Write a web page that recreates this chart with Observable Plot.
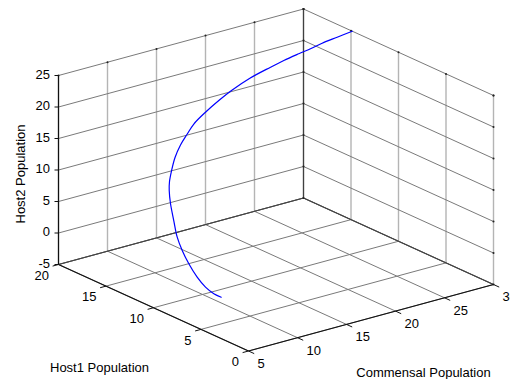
<!DOCTYPE html>
<html>
<head>
<meta charset="utf-8">
<script src="https://cdn.jsdelivr.net/npm/d3@7"></script>
<script src="https://cdn.jsdelivr.net/npm/@observablehq/plot@0.6"></script>
<style>
  html, body { margin: 0; padding: 0; background: #fff; }
  #chart svg { display: block; }
</style>
</head>
<body>
<div id="chart"></div>
<script>
// ---- data ----
const commensal = [6.5, 6.6, 6.7, 6.8, 6.9, 7.0, 7.1, 7.3, 7.5, 7.7, 8.0, 8.3, 8.7, 9.2, 9.8, 10.5, 12.0, 13.7, 15.5, 18.0, 20.2, 22.0, 24.0, 25.5, 27.0, 28.5, 30.0];
const host1 = [4.42, 5.30, 6.28, 7.26, 8.24, 9.04, 9.67, 10.24, 10.79, 11.13, 11.41, 11.51, 11.55, 11.49, 11.43, 11.43, 11.75, 12.10, 12.62, 13.31, 13.36, 13.82, 14.31, 14.62, 14.94, 14.91, 14.87];
const host2 = [-0.13, -0.23, 0.10, 0.97, 2.38, 3.90, 5.54, 7.71, 9.95, 11.70, 12.80, 14.28, 16.22, 18.04, 19.49, 20.86, 21.88, 22.78, 23.25, 23.63, 24.46, 24.45, 24.33, 24.28, 24.31, 24.65, 25.0];

const commensalTicks = [5, 10, 15, 20, 25, 30];
const host1Ticks = [0, 5, 10, 15, 20];
const host2Ticks = [-5, 0, 5, 10, 15, 20, 25];

const commensalLabel = "Commensal Population";
const host1Label = "Host1 Population";
const host2Label = "Host2 Population";

// ---- 3D view (MATLAB-like default azimuth/elevation) ----
const cLim = [5, 30], hLim = [0, 20], zLim = [-5, 25];
const origin = [248, 350.5];          // screen position of (cLim[0], hLim[0], zLim[0])
const cVec = [9.8, -2.66];            // per commensal unit
const hVec = [-9.5, -4.325];          // per host1 unit
const zVec = [0, -6.3];               // per host2 unit
function proj(c, h, z) {
  const dc = c - cLim[0], dh = h - hLim[0], dz = z - zLim[0];
  return [origin[0] + dc * cVec[0] + dh * hVec[0] + dz * zVec[0],
          origin[1] + dc * cVec[1] + dh * hVec[1] + dz * zVec[1]];
}
function seg(a, b, kind) {
  const p = proj(...a), q = proj(...b);
  return {x1: p[0], y1: p[1], x2: q[0], y2: q[1], kind};
}

// grid on the three back planes
const grid = [];
for (const c of commensalTicks) {
  grid.push(seg([c, hLim[1], zLim[0]], [c, hLim[1], zLim[1]], "v"));   // back-left wall
  grid.push(seg([c, hLim[0], zLim[0]], [c, hLim[1], zLim[0]], "s"));   // floor
}
for (const h of host1Ticks) {
  grid.push(seg([cLim[1], h, zLim[0]], [cLim[1], h, zLim[1]], "v"));   // back-right wall
  grid.push(seg([cLim[0], h, zLim[0]], [cLim[1], h, zLim[0]], "s"));   // floor
}
for (const z of host2Ticks) {
  grid.push(seg([cLim[0], hLim[1], z], [cLim[1], hLim[1], z], "s"));
  grid.push(seg([cLim[1], hLim[0], z], [cLim[1], hLim[1], z], "s"));
}
const backEdges = [
  seg([cLim[0], hLim[1], zLim[0]], [cLim[1], hLim[1], zLim[0]]),
  seg([cLim[1], hLim[0], zLim[0]], [cLim[1], hLim[1], zLim[0]]),
  seg([cLim[1], hLim[1], zLim[0]], [cLim[1], hLim[1], zLim[1]])
];
const axesLines = [
  seg([cLim[0], hLim[1], zLim[0]], [cLim[0], hLim[1], zLim[1]]),
  seg([cLim[0], hLim[0], zLim[0]], [cLim[0], hLim[1], zLim[0]]),
  seg([cLim[0], hLim[0], zLim[0]], [cLim[1], hLim[0], zLim[0]])
];

// tick marks
const ticks = [];
for (const c of commensalTicks) ticks.push(seg([c, hLim[0], zLim[0]], [c, hLim[0] - 0.6, zLim[0]]));
for (const h of host1Ticks) ticks.push(seg([cLim[0], h, zLim[0]], [cLim[0] - 0.6, h, zLim[0]]));
for (const z of host2Ticks) { const p = proj(cLim[0], hLim[1], z); ticks.push({x1: p[0] - 4, y1: p[1], x2: p[0], y2: p[1]}); }

// small tick dots on the far box edges
const tickDots = [];
for (const c of commensalTicks) tickDots.push(proj(c, hLim[1], zLim[1]));
for (const h of host1Ticks) tickDots.push(proj(cLim[1], h, zLim[1]));
for (const z of host2Ticks) { tickDots.push(proj(cLim[1], hLim[0], z)); tickDots.push(proj(cLim[1], hLim[1], z)); }

// tick labels
const cLabels = commensalTicks.map(c => { const p = proj(c, hLim[0], zLim[0]); return {x: p[0], y: p[1], t: String(c)}; });
const hLabels = host1Ticks.map(h => { const p = proj(cLim[0], h, zLim[0]); return {x: p[0], y: p[1], t: String(h)}; });
const zLabels = host2Ticks.map(z => { const p = proj(cLim[0], hLim[1], z); return {x: p[0], y: p[1], t: String(z)}; });

// axis titles anchored at axis midpoints
const cMid = proj((cLim[0] + cLim[1]) / 2, hLim[0], zLim[0]);
const hMid = proj(cLim[0], (hLim[0] + hLim[1]) / 2, zLim[0]);
const zMid = proj(cLim[0], hLim[1], (zLim[0] + zLim[1]) / 2);

const curve = commensal.map((c, i) => { const p = proj(c, host1[i], host2[i]); return {x: p[0], y: p[1]}; });

const W = 510, H = 379;
const font = "'Liberation Sans', Arial, Helvetica, sans-serif";
const chart = Plot.plot({
  width: W, height: H,
  margin: 0,
  x: {domain: [0, W], range: [0, W], axis: null},
  y: {domain: [0, H], range: [0, H], axis: null},
  style: {fontFamily: font, fontSize: "13px", background: "#fff", color: "#000"},
  marks: [
    Plot.link(grid.filter(d => d.kind === "v"), {x1: "x1", y1: "y1", x2: "x2", y2: "y2", stroke: "#b4b4b4", strokeWidth: 1.4}),
    Plot.link(grid.filter(d => d.kind === "s"), {x1: "x1", y1: "y1", x2: "x2", y2: "y2", stroke: "#7a7a7a", strokeWidth: 1}),
    Plot.link(backEdges, {x1: "x1", y1: "y1", x2: "x2", y2: "y2", stroke: "#404040", strokeWidth: 1.1}),
    Plot.dot(tickDots, {x: d => d[0], y: d => d[1], r: 1, fill: "#222", stroke: null}),
    Plot.link(axesLines, {x1: "x1", y1: "y1", x2: "x2", y2: "y2", stroke: "#111", strokeWidth: 1.2}),
    Plot.link(ticks, {x1: "x1", y1: "y1", x2: "x2", y2: "y2", stroke: "#111", strokeWidth: 1}),
    Plot.line(curve, {x: "x", y: "y", stroke: "#0000ff", strokeWidth: 1.2, curve: "catmull-rom"}),
    Plot.text(cLabels, {x: "x", y: "y", text: "t", textAnchor: "start", dx: 9, dy: 12.8, fontSize: 13, fill: "#000"}),
    Plot.text(hLabels, {x: "x", y: "y", text: "t", textAnchor: "end", dx: -9.5, dy: 11, fontSize: 13, fill: "#000"}),
    Plot.text(zLabels, {x: "x", y: "y", text: "t", textAnchor: "end", dx: -8.5, dy: -1, fontSize: 13, fill: "#000"}),
    Plot.text([commensalLabel], {x: () => cMid[0], y: () => cMid[1], text: d => d, dx: 52.5, dy: 55, fontSize: 13, fill: "#000"}),
    Plot.text([host1Label], {x: () => hMid[0], y: () => hMid[1], text: d => d, dx: -54, dy: 60, fontSize: 13, fill: "#000"}),
    Plot.text([host2Label], {x: () => zMid[0], y: () => zMid[1], text: d => d, dx: -38, dy: 4, rotate: -90, fontSize: 13, fill: "#000"})
  ]
});
document.getElementById("chart").appendChild(chart);
</script>
</body>
</html>
